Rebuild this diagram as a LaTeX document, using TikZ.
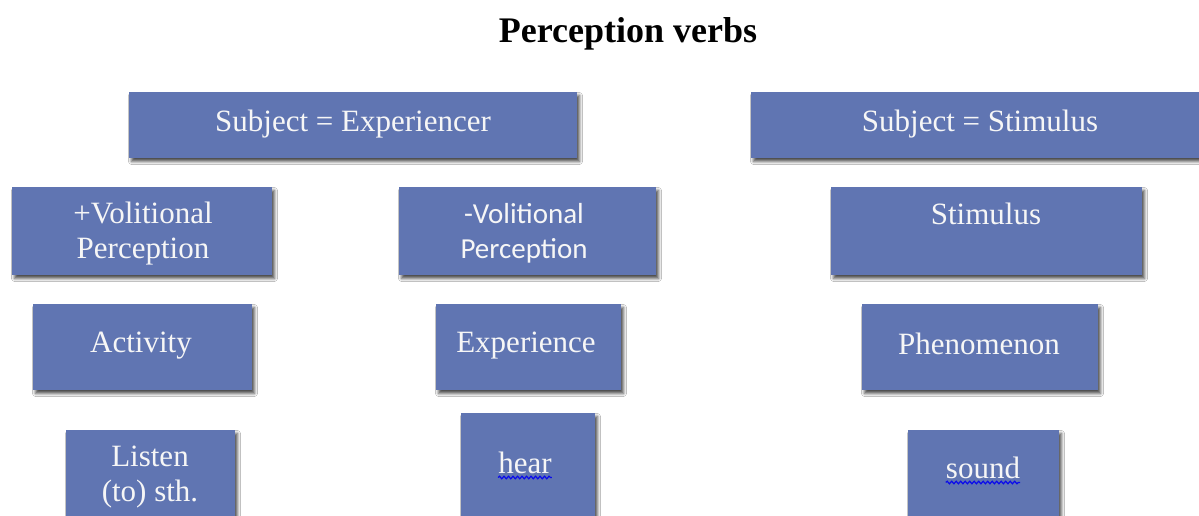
\documentclass[tikz,border=0pt]{standalone}
\usepackage{fontspec}
\setmainfont{Liberation Serif}
\newfontfamily\gothic{Carlito}
\usetikzlibrary{shadows.blur,decorations.pathmorphing}
\definecolor{boxblue}{RGB}{96,117,178}
\definecolor{boxtext}{RGB}{246,246,246}
\definecolor{spellblue}{RGB}{10,10,235}
\tikzset{
  box/.style={rectangle, fill=boxblue, draw=none, inner sep=0pt,
    blur shadow={shadow xshift=2.5pt, shadow yshift=-3.5pt, shadow blur radius=3pt, shadow opacity=70}},
  label text/.style={text=boxtext, align=center, inner sep=0pt,
    font=\fontsize{31}{35}\selectfont},
  wavy/.style={draw=spellblue, line width=1.2pt,
    decorate, decoration={snake, amplitude=1.3pt, segment length=4.5pt}}
}
\begin{document}
\begin{tikzpicture}[x=1pt, y=-1pt]
  \useasboundingbox[fill=white] (0,0) rectangle (1199,516);

  % heading
  \node[font=\fontsize{36}{40}\selectfont\bfseries] (title) at (628,34) {Perception verbs};

  % top level
  \node[box, minimum width=448pt, minimum height=66pt] (exp) at (353,125) {};
  \node[box, minimum width=452pt, minimum height=66pt] (sti) at (977,125) {};
  \node[label text] (expT) at (353,124) {Subject = Experiencer};
  \node[label text] (stiT) at (980,124) {Subject = Stimulus};

  % second level
  \node[box, minimum width=260pt, minimum height=88pt] (vol) at (142,231) {};
  \node[box, minimum width=257pt, minimum height=88pt] (nvol) at (527.5,231) {};
  \node[box, minimum width=311pt, minimum height=88pt] (stim) at (986.5,231) {};
  \node[label text] (volT) at (143,234) {+Volitional\\Perception};
  \node[label text, font=\gothic\fontsize{29}{35}\selectfont] (nvolT) at (524,233) {-Volitional\\Perception};
  \node[label text] (stimT) at (986,214) {Stimulus};

  % third level
  \node[box, minimum width=219pt, minimum height=86pt] (act) at (142.5,347) {};
  \node[box, minimum width=185pt, minimum height=86pt] (expc) at (528.5,347) {};
  \node[box, minimum width=236pt, minimum height=86pt] (phen) at (980,347) {};
  \node[label text] (actT) at (141,346) {Activity};
  \node[label text] (expcT) at (526,346) {Experience};
  \node[label text] (phenT) at (979,344) {Phenomenon};

  % examples
  \node[box, minimum width=169pt, minimum height=100pt] (lis) at (150.5,480) {};
  \node[box, minimum width=134pt, minimum height=117pt] (hear) at (528,471.5) {};
  \node[box, minimum width=151pt, minimum height=100pt] (snd) at (983.5,480) {};
  \node[label text] (lisT) at (150,477) {Listen\\(to) sth.};
  \node[label text, anchor=base] (hearT) at (525,473) {hear};
  \node[label text, anchor=base] (sndT) at (983,478) {sound};

  % spell-check underlines
  \draw[wavy] ([yshift=-4.5pt]hearT.base west) -- ([yshift=-4.5pt]hearT.base east);
  \draw[wavy] ([yshift=-4.5pt]sndT.base west) -- ([yshift=-4.5pt]sndT.base east);
\end{tikzpicture}
\end{document}
